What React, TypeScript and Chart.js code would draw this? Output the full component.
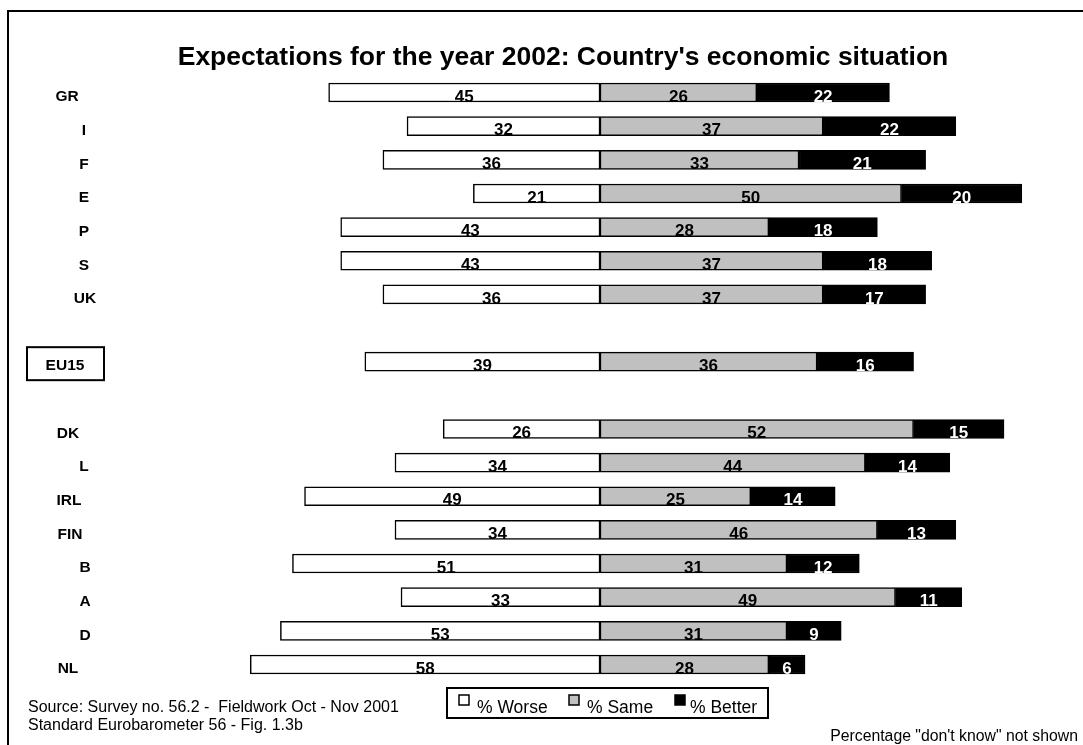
import React, { useEffect, useRef } from 'react';
import { Chart, registerables } from 'chart.js';

Chart.register(...registerables);

const TITLE = "Expectations for the year 2002: Country's economic situation";
const categories = ['GR', 'I', 'F', 'E', 'P', 'S', 'UK', '', 'EU15', '', 'DK', 'L', 'IRL', 'FIN', 'B', 'A', 'D', 'NL'];
const worse = [45, 32, 36, 21, 43, 43, 36, null, 39, null, 26, 34, 49, 34, 51, 33, 53, 58];
const same = [26, 37, 33, 50, 28, 37, 37, null, 36, null, 52, 44, 25, 46, 31, 49, 31, 28];
const better = [22, 22, 21, 20, 18, 18, 17, null, 16, null, 15, 14, 14, 13, 12, 11, 9, 6];
const seriesNames = ['% Worse', '% Same', '% Better'];
const seriesColors = ['#FFFFFF', '#C0C0C0', '#000000'];
const labelColors = ['#000000', '#000000', '#FFFFFF'];
const sourceLines = ['Source: Survey no. 56.2 -  Fieldwork Oct - Nov 2001', 'Standard Eurobarometer 56 - Fig. 1.3b'];
const footnote = 'Percentage "don\'t know" not shown';
const boxedCategory = 'EU15';
const xMin = -60;
const xMax = 70;

const FONT = "Arial, 'Liberation Sans', Helvetica, sans-serif";

const catLabelX: Record<string, number> = {
  GR: 67, I: 84, F: 84, E: 84, P: 84, S: 84, UK: 85, EU15: 65,
  DK: 68, L: 84, IRL: 69, FIN: 70, B: 85, A: 85, D: 85, NL: 68,
};

const decorPlugin = {
  id: 'decor',
  beforeDraw(chart: any) {
    const ctx = chart.ctx;
    ctx.save();
    ctx.fillStyle = '#FFFFFF';
    ctx.fillRect(0, 0, chart.width, chart.height);
    ctx.strokeStyle = '#000000';
    ctx.lineWidth = 2;
    ctx.strokeRect(8, 11, 3000, 3000);
    ctx.restore();
  },
  afterDatasetsDraw(chart: any) {
    const ctx = chart.ctx;
    ctx.save();
    ctx.font = `bold 17px ${FONT}`;
    ctx.textAlign = 'center';
    ctx.textBaseline = 'middle';
    chart.data.datasets.forEach((ds: any, di: number) => {
      const meta = chart.getDatasetMeta(di);
      meta.data.forEach((el: any, i: number) => {
        const raw = ds.data[i];
        if (raw === null || raw === undefined) return;
        const cx = (el.x + el.base) / 2;
        ctx.fillStyle = labelColors[di];
        ctx.fillText(String(Math.abs(raw)), cx, el.y + 4.5);
      });
    });
    ctx.restore();
  },
  afterDraw(chart: any) {
    const ctx = chart.ctx;
    const yScale = chart.scales.y;
    ctx.save();
    // title
    ctx.fillStyle = '#000000';
    ctx.font = `bold 26.5px ${FONT}`;
    ctx.textAlign = 'center';
    ctx.textBaseline = 'alphabetic';
    ctx.fillText(TITLE, 563, 65);

    // category labels
    ctx.font = `bold 15.5px ${FONT}`;
    ctx.textBaseline = 'middle';
    categories.forEach((c, i) => {
      if (!c) return;
      const y = yScale.getPixelForValue(i) + 4.5;
      const x = catLabelX[c] ?? 84;
      ctx.fillText(c, x, y);
      if (c === boxedCategory) {
        ctx.lineWidth = 2;
        ctx.strokeStyle = '#000000';
        ctx.strokeRect(27, y - 19, 77, 33);
      }
    });

    // legend
    ctx.lineWidth = 2;
    ctx.strokeStyle = '#000000';
    ctx.strokeRect(447, 688, 321, 30);
    const sq = [459, 569, 675];
    const tx = [477, 587, 690];
    ctx.font = `17.5px ${FONT}`;
    ctx.textAlign = 'left';
    ctx.textBaseline = 'alphabetic';
    seriesNames.forEach((n, i) => {
      ctx.fillStyle = seriesColors[i];
      ctx.fillRect(sq[i], 695, 10, 10);
      ctx.lineWidth = 1.5;
      ctx.strokeRect(sq[i], 695, 10, 10);
      ctx.fillStyle = '#000000';
      ctx.fillText(n, tx[i], 713);
    });

    // source text
    ctx.font = `16px ${FONT}`;
    ctx.textBaseline = 'middle';
    ctx.fillText(sourceLines[0], 28, 708);
    ctx.fillText(sourceLines[1], 28, 726);

    // footnote
    ctx.textAlign = 'right';
    ctx.font = `15.8px ${FONT}`;
    ctx.fillText(footnote, 1078, 737);
    ctx.restore();
  },
};

export default function App() {
  const ref = useRef<HTMLCanvasElement | null>(null);
  useEffect(() => {
    document.body.style.margin = '0';
    const canvas = ref.current;
    if (!canvas) return;
    const chart = new Chart(canvas, {
      type: 'bar',
      data: {
        labels: categories,
        datasets: [
          { label: seriesNames[0], data: worse.map((v) => (v === null ? null : -v)) as any },
          { label: seriesNames[1], data: same as any },
          { label: seriesNames[2], data: better as any },
        ].map((d, i) => ({
          ...d,
          backgroundColor: seriesColors[i],
          borderColor: '#000000',
          borderWidth: 1.5,
          borderSkipped: false,
          barThickness: 19,
        })),
      },
      options: {
        indexAxis: 'y',
        responsive: false,
        animation: false,
        devicePixelRatio: 1,
        layout: { padding: { left: 238.2, right: 60.9, top: 75.7, bottom: 63.7 } },
        scales: {
          x: { stacked: true, min: xMin, max: xMax, display: false },
          y: { stacked: true, display: false },
        },
        plugins: {
          legend: { display: false },
          title: { display: false },
          tooltip: { enabled: false },
        },
      },
      plugins: [decorPlugin],
    } as any);
    return () => chart.destroy();
  }, []);
  return (
    <canvas
      ref={ref}
      width={1083}
      height={745}
      style={{ position: 'absolute', left: 0, top: 0, width: 1083, height: 745 }}
    />
  );
}
